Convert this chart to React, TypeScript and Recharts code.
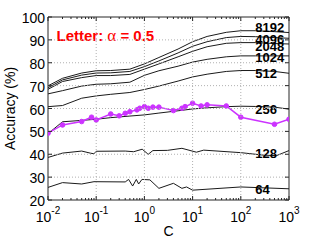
import React from "react";
import { LineChart, Line, XAxis, YAxis, ReferenceLine, ReferenceDot } from "recharts";

// C values shared by the smooth (large bank) curves
const gridC = [0.01, 0.02, 0.05, 0.1, 0.2, 0.5, 1, 2, 5, 10, 20, 50, 100, 200, 500, 1000];
const acc8192 = [69.9, 73.2, 75.5, 76.5, 76.6, 77.2, 79.5, 82.3, 86.0, 89.2, 91.5, 93.3, 94.0, 94.0, 93.6, 93.2];
const acc4096 = [69.1, 72.5, 74.6, 75.5, 75.6, 76.2, 78.3, 80.8, 84.3, 87.2, 89.2, 91.0, 91.5, 91.4, 91.0, 90.7];
const acc2048 = [68.4, 71.8, 73.5, 74.4, 74.4, 74.9, 77.2, 79.5, 82.6, 85.0, 87.0, 88.5, 88.8, 88.8, 88.4, 88.2];
const acc1024 = [66.4, 67.8, 69.8, 70.6, 70.8, 71.5, 74.5, 76.5, 78.5, 80.3, 81.5, 82.6, 83.0, 83.0, 83.0, 83.0];
const acc512 = [60.8, 61.3, 64.5, 65.5, 66.2, 67.0, 68.3, 69.8, 72.0, 73.8, 75.0, 76.2, 76.6, 76.6, 76.2, 75.4];
const acc256 = [49.0, 54.2, 54.8, 55.3, 56.0, 56.7, 57.2, 58.0, 59.0, 59.8, 60.3, 60.8, 61.0, 60.9, 60.6, 59.7];

// the noisier small banks
const c128 = [0.01, 0.02, 0.05, 0.075, 0.09, 0.1, 0.4, 0.6, 0.9, 1.2, 1.5, 3, 6, 12, 17, 100, 300, 550, 1000];
const acc128 = [38.6, 40.5, 41.4, 40.5, 40.2, 41.3, 41.4, 41.1, 42.2, 40.0, 41.6, 41.7, 42.6, 40.9, 41.8, 40.7, 39.6, 39.4, 41.6];
const c64 = [0.01, 0.02, 0.05, 0.09, 0.4, 0.47, 0.57, 0.68, 0.76, 0.89, 1.3, 2, 4, 6, 7.5, 10, 100, 1000];
const acc64 = [25.5, 27.6, 27.0, 28.0, 27.9, 29.0, 26.1, 29.0, 27.0, 29.0, 28.8, 25.1, 27.3, 25.1, 25.7, 24.3, 25.7, 24.9];

// purple curve with markers
const cPurple = [0.01, 0.02, 0.05, 0.08, 0.1, 0.2, 0.3, 0.4, 0.5, 0.7, 0.8, 1, 1.2, 1.5, 2, 4, 6, 7, 10, 15, 20, 50, 100, 500, 1000];
const accPurple = [49.2, 52.8, 54.3, 56.2, 55.0, 57.6, 56.8, 57.9, 58.6, 59.4, 60.1, 60.8, 60.1, 60.6, 60.6, 59.1, 60.1, 60.8, 62.3, 61.1, 61.6, 61.1, 56.2, 53.1, 55.3];

// curve labels: text and where they sit (C, accuracy)
const labelNames = ["8192", "4096", "2048", "1024", "512", "256", "128", "64"];
const labelY = [95.6, 90.4, 87.3, 82.4, 75.4, 59.7, 40.7, 24.7];
const labelC = 200;

const xMajor = [0.01, 0.1, 1, 10, 100, 1000];
const yTicks = [20, 30, 40, 50, 60, 70, 80, 90, 100];

const PURPLE = "#cc33ff";
const INK = "#262626";
const PLOT_TOP = 17;
const PLOT_BOTTOM = 200;
const PLOT_LEFT = 48;
const PLOT_RIGHT = 289;

// minor log ticks between the decades
const xTicks: number[] = [];
xMajor.forEach((d, i) => {
  xTicks.push(d);
  if (i < xMajor.length - 1) for (let m = 2; m < 10; m++) xTicks.push(+(m * d).toPrecision(3));
});

const toPoints = (cs: number[], vs: number[]) => cs.map((c, i) => ({ c, v: vs[i] }));

const blackSeries = [acc8192, acc4096, acc2048, acc1024, acc512, acc256].map((a) => toPoints(gridC, a));
blackSeries.push(toPoints(c128, acc128), toPoints(c64, acc64));
const purpleData = toPoints(cPurple, accPurple);

const XTick = (props: any) => {
  const { x, payload } = props;
  const lg = Math.log10(payload.value);
  const major = Math.abs(lg - Math.round(lg)) < 1e-6;
  const len = major ? 4 : 2;
  const inner = major && payload.value > 0.01 && payload.value < 1000;
  return (
    <g>
      {inner && (
        <line x1={x} x2={x} y1={PLOT_TOP} y2={PLOT_BOTTOM} stroke="#b0b0b0" strokeDasharray="1 2" />
      )}
      <line x1={x} x2={x} y1={PLOT_BOTTOM} y2={PLOT_BOTTOM - len} stroke={INK} />
      <line x1={x} x2={x} y1={PLOT_TOP} y2={PLOT_TOP + len} stroke={INK} />
      {major && (
        <text x={x} y={221.5} textAnchor="middle" fontSize={14} fill="#000">
          <tspan>10</tspan>
          <tspan dy={-8} fontSize={10}>
            {Math.round(lg)}
          </tspan>
        </text>
      )}
    </g>
  );
};

const YTick = (props: any) => {
  const { y, payload } = props;
  const v = payload.value;
  const inner = v > 20 && v < 100;
  return (
    <g>
      {inner && (
        <line x1={PLOT_LEFT} x2={PLOT_RIGHT} y1={y} y2={y} stroke="#b0b0b0" strokeDasharray="1 2" />
      )}
      <line x1={PLOT_LEFT} x2={PLOT_LEFT + 4} y1={y} y2={y} stroke={INK} />
      <line x1={PLOT_RIGHT} x2={PLOT_RIGHT - 4} y1={y} y2={y} stroke={INK} />
      <text x={PLOT_LEFT - 3} y={y} dy={6} textAnchor="end" fontSize={14} fill="#000">
        {v}
      </text>
    </g>
  );
};

const App = () => {
  return (
    <div style={{ position: "absolute", left: 0, top: 0, fontFamily: "'Liberation Sans', Arial, sans-serif" }}>
      <LineChart width={319} height={240} margin={{ top: PLOT_TOP, right: 30, bottom: 0, left: 0 }}>
        <XAxis
          dataKey="c"
          type="number"
          scale="log"
          domain={[0.01, 1000]}
          allowDataOverflow
          ticks={xTicks}
          interval={0}
          tick={<XTick />}
          tickLine={false}
          axisLine={{ stroke: INK }}
          height={40}
          label={{
            content: () => (
              <text x={(PLOT_LEFT + PLOT_RIGHT) / 2} y={236} textAnchor="middle" fontSize={14} fill="#000">
                C
              </text>
            ),
          }}
        />
        <YAxis
          type="number"
          domain={[20, 100]}
          ticks={yTicks}
          interval={0}
          tick={<YTick />}
          tickLine={false}
          axisLine={{ stroke: INK }}
          width={48}
          label={{
            content: () => {
              const cy = (PLOT_TOP + PLOT_BOTTOM) / 2;
              return (
                <text x={10} y={cy} transform={`rotate(-90, 10, ${cy})`} textAnchor="middle" dominantBaseline="central" fontSize={14} fill="#000">
                  Accuracy (%)
                </text>
              );
            },
          }}
        />
        <ReferenceLine x={1000} stroke={INK} />
        <ReferenceLine y={100} stroke={INK} />

        {blackSeries.map((d, i) => (
          <Line key={i} data={d} dataKey="v" stroke="#1a1a1a" strokeWidth={1} dot={false} isAnimationActive={false} />
        ))}
        <Line
          data={purpleData}
          dataKey="v"
          stroke={PURPLE}
          strokeWidth={1.5}
          dot={{ r: 2.3, fill: PURPLE, stroke: PURPLE, strokeWidth: 1 }}
          isAnimationActive={false}
        />

        {labelNames.map((name, i) => (
          <ReferenceDot
            key={name}
            x={labelC}
            y={labelY[i]}
            r={1}
            fill="none"
            stroke="none"
            label={(p: any) => (
              <text x={p.viewBox.x + 1} y={p.viewBox.y + 1} dy={5} fontSize={13} fontWeight="bold" fill="#000">
                {name}
              </text>
            )}
          />
        ))}
        <ReferenceDot
          x={0.015}
          y={91.7}
          r={1}
          fill="none"
          stroke="none"
          label={(p: any) => (
            <text x={p.viewBox.x + 1} y={p.viewBox.y + 1} dy={5.5} fontSize={15} fontWeight="bold" fill="#ff0000">
              Letter:{" "}
              <tspan fontFamily="'Liberation Serif', serif" fontWeight="normal" fontSize={17}>
                α
              </tspan>{" "}
              = 0.5
            </text>
          )}
        />
      </LineChart>
    </div>
  );
};

export default App;
